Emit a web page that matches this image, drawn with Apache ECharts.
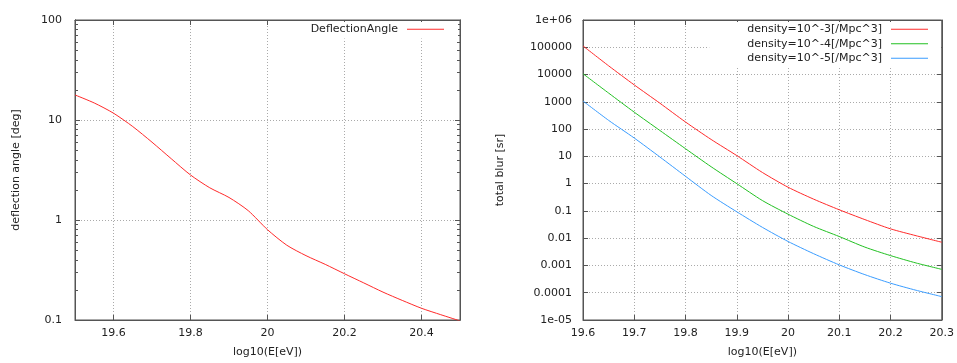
<!DOCTYPE html>
<html>
<head>
<meta charset="utf-8">
<script src="https://cdn.jsdelivr.net/npm/echarts@6/dist/echarts.min.js"></script>
<style>
  html, body { margin: 0; padding: 0; background: #fff; }
  #chart { width: 957px; height: 363px; }
</style>
</head>
<body>
<div id="chart"></div>
<script>
// left panel: deflection angle vs energy
var energyA = [19.5, 19.55, 19.6, 19.65, 19.7, 19.75, 19.8, 19.85, 19.9, 19.95, 20.0,
               20.05, 20.1, 20.15, 20.2, 20.25, 20.3, 20.35, 20.4, 20.45, 20.5];
var deflection = [17.8, 14.8, 11.7, 8.6, 6.0, 4.1, 2.82, 2.1, 1.68, 1.24, 0.80,
                  0.56, 0.44, 0.36, 0.29, 0.235, 0.19, 0.157, 0.131, 0.113, 0.098];
var ticksA = [19.6, 19.8, 20.0, 20.2, 20.4];

// right panel: total blur for three source densities
var energyB = [19.6, 19.65, 19.7, 19.75, 19.8, 19.85, 19.9, 19.95, 20.0, 20.05, 20.1, 20.15, 20.2, 20.25, 20.3];
var blur3 = [112000, 20900, 4170, 891, 182, 41.7, 10.7, 2.57, 0.74, 0.27, 0.11, 0.048, 0.022, 0.0123, 0.0071];
var blur4 = [10700, 2090, 417, 89, 19.1, 4.17, 1.0, 0.24, 0.076, 0.027, 0.0115, 0.0047, 0.0023, 0.00123, 0.00072];
var blur5 = [1070, 209, 47, 9.5, 1.86, 0.37, 0.093, 0.025, 0.0076, 0.0027, 0.00105, 0.00046, 0.000224, 0.000123, 0.000072];

var names = ['density=10^-3[/Mpc^3]', 'density=10^-4[/Mpc^3]', 'density=10^-5[/Mpc^3]'];
var colors = ['#ff2a2a', '#22c022', '#3a9cff'];

var font = 'DejaVu Sans';
var txt = '#222';
var frame = '#555';

// minor log ticks (2..9 of each decade) for the left panel, in log10 units
var minorA = [];
for (var d = -1; d < 2; d++) {
  for (var k = 2; k < 10; k++) minorA.push(d + Math.log10(k));
}

function pairs(xs, ys) {
  var res = [];
  for (var i = 0; i < xs.length; i++) res.push([xs[i], ys[i]]);
  return res;
}

function logLabel(v) {
  var e = Math.round(Math.log10(v));
  if (e >= 6) return '1e+0' + e;
  if (e <= -5) return '1e-0' + (-e);
  if (e >= 0) return String(Math.pow(10, e));
  return '0.' + new Array(-e).join('0') + '1';
}

function curve(name, xi, yi, data, color) {
  return {
    name: name, type: 'line', xAxisIndex: xi, yAxisIndex: yi,
    data: data, showSymbol: false, symbol: 'none', smooth: 0.25,
    itemStyle: { color: color },
    lineStyle: { color: color, width: 1 }
  };
}

function minorAxis(pos) {
  return {
    gridIndex: 0, type: 'value', min: -1, max: 2, position: pos, offset: 0,
    axisLine: { show: true, onZero: false, lineStyle: { color: frame } },
    axisTick: { show: true, inside: true, length: 3, customValues: minorA, lineStyle: { color: frame } },
    axisLabel: { show: false, customValues: minorA },
    splitLine: { show: false }
  };
}

var chart = echarts.init(document.getElementById('chart'), null, { renderer: 'canvas' });

var grid = { show: true, borderColor: frame, borderWidth: 1, backgroundColor: 'transparent' };
var split = { show: true, lineStyle: { color: '#aaa', type: [1, 2], width: 1 } };
var lbl = { color: txt, fontFamily: font, fontSize: 11 };
var legendText = { color: txt, fontFamily: font, fontSize: 11, lineHeight: 14.5, padding: [0, 4, 0, 0] };
var axLine = { show: true, onZero: false, lineStyle: { color: frame } };
var tick = { show: true, inside: true, length: 5, lineStyle: { color: frame } };

var option = {
  animation: false,
  textStyle: { fontFamily: font },
  grid: [
    Object.assign({ left: 75, top: 20, width: 385, height: 300 }, grid),
    Object.assign({ left: 583, top: 20, width: 361, height: 300 }, grid)
  ],
  legend: [
    {
      data: [{ name: 'DeflectionAngle', itemStyle: { color: colors[0] } }],
      orient: 'vertical', align: 'right', right: 499, top: 22,
      icon: 'rect', itemWidth: 37, itemHeight: 1,
      padding: [0, 14, 2, 30], backgroundColor: '#fff',
      textStyle: legendText
    },
    {
      data: [
        { name: names[0], itemStyle: { color: colors[0] } },
        { name: names[1], itemStyle: { color: colors[1] } },
        { name: names[2], itemStyle: { color: colors[2] } }
      ],
      orient: 'vertical', align: 'right', right: 16, top: 22, itemGap: 0,
      icon: 'rect', itemWidth: 37, itemHeight: 1,
      padding: [0, 13, 2, 38], backgroundColor: '#fff',
      textStyle: legendText
    }
  ],
  xAxis: [
    {
      gridIndex: 0, type: 'value', min: 19.5, max: 20.5,
      name: 'log10(E[eV])', nameLocation: 'middle', nameGap: 27,
      nameTextStyle: lbl,
      axisLine: axLine,
      axisTick: Object.assign({ customValues: ticksA }, tick),
      axisLabel: Object.assign({ margin: 8, customValues: ticksA, formatter: function (v) { return String(+v.toFixed(1)); } }, lbl),
      splitLine: split
    },
    {
      gridIndex: 0, type: 'value', min: 19.5, max: 20.5, position: 'top',
      axisLine: axLine,
      axisTick: Object.assign({ customValues: ticksA }, tick),
      axisLabel: { show: false, customValues: ticksA },
      splitLine: { show: false }
    },
    {
      gridIndex: 1, type: 'value', min: 19.6, max: 20.3, interval: 0.1,
      name: 'log10(E[eV])', nameLocation: 'middle', nameGap: 27,
      nameTextStyle: lbl,
      axisLine: axLine,
      axisTick: tick,
      axisLabel: Object.assign({ margin: 8, showMinLabel: true, showMaxLabel: true,
        formatter: function (v) { return String(+v.toFixed(1)); } }, lbl),
      splitLine: split
    },
    {
      gridIndex: 1, type: 'value', min: 19.6, max: 20.3, interval: 0.1, position: 'top',
      axisLine: axLine,
      axisTick: tick,
      axisLabel: { show: false },
      splitLine: { show: false }
    }
  ],
  yAxis: [
    {
      gridIndex: 0, type: 'log', logBase: 10, min: 0.1, max: 100,
      name: 'deflection angle [deg]', nameLocation: 'middle', nameGap: 53, nameRotate: 90,
      nameTextStyle: lbl,
      axisLine: axLine,
      axisTick: tick,
      axisLabel: Object.assign({ margin: 13, formatter: logLabel }, lbl),
      splitLine: split
    },
    {
      gridIndex: 0, type: 'log', logBase: 10, min: 0.1, max: 100, position: 'right',
      axisLine: axLine,
      axisTick: tick,
      axisLabel: { show: false },
      splitLine: { show: false }
    },
    {
      gridIndex: 1, type: 'log', logBase: 10, min: 1e-5, max: 1e6, interval: 1,
      name: 'total blur [sr]', nameLocation: 'middle', nameGap: 77, nameRotate: 90,
      nameTextStyle: lbl,
      axisLine: axLine,
      axisTick: tick,
      axisLabel: Object.assign({ margin: 11, formatter: logLabel }, lbl),
      splitLine: split
    },
    {
      gridIndex: 1, type: 'log', logBase: 10, min: 1e-5, max: 1e6, interval: 1, position: 'right',
      axisLine: axLine,
      axisTick: tick,
      axisLabel: { show: false },
      splitLine: { show: false }
    },
    minorAxis('left'),
    minorAxis('right')
  ],
  series: [
    curve('DeflectionAngle', 0, 0, pairs(energyA, deflection), colors[0]),
    curve(names[0], 2, 2, pairs(energyB, blur3), colors[0]),
    curve(names[1], 2, 2, pairs(energyB, blur4), colors[1]),
    curve(names[2], 2, 2, pairs(energyB, blur5), colors[2])
  ]
};

chart.setOption(option);
</script>
</body>
</html>
